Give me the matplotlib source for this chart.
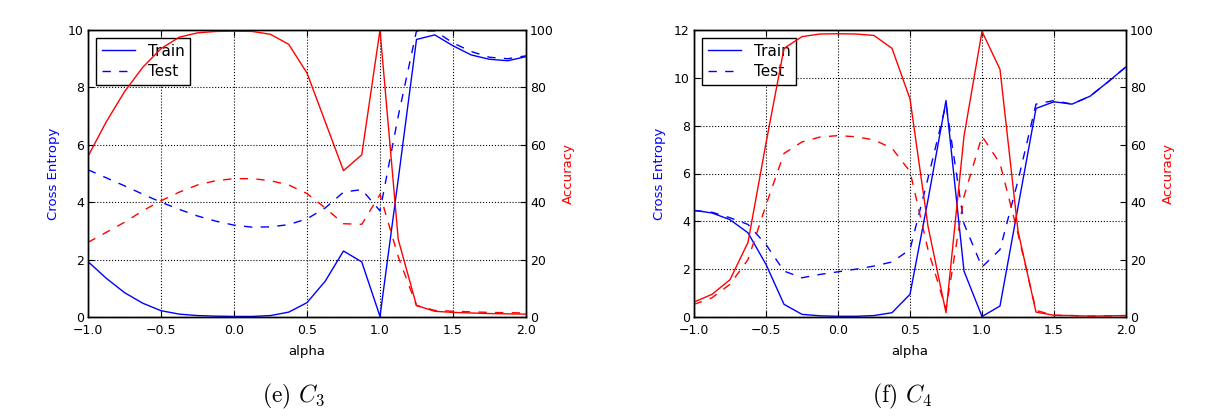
import matplotlib
matplotlib.use("Agg")
import matplotlib.pyplot as plt

# ---------------- data ----------------
alpha = [-1.0, -0.875, -0.75, -0.625, -0.5, -0.375, -0.25, -0.125, 0.0,
         0.125, 0.25, 0.375, 0.5, 0.625, 0.75, 0.875, 1.0,
         1.125, 1.25, 1.375, 1.5, 1.625, 1.75, 1.875, 2.0]

# panel (e) C3
e_train_ce = [1.93, 1.35, 0.85, 0.48, 0.22, 0.10, 0.05, 0.03, 0.02, 0.02, 0.05, 0.17, 0.50,
              1.25, 2.30, 1.92, 0.02, 4.80, 9.67, 9.83, 9.45, 9.13, 8.98, 8.93, 9.07]
e_test_ce = [5.13, 4.85, 4.57, 4.28, 4.00, 3.75, 3.52, 3.34, 3.20, 3.13, 3.14, 3.22, 3.42,
             3.80, 4.35, 4.44, 3.70, 7.00, 9.97, 9.97, 9.55, 9.25, 9.05, 9.00, 9.10]
e_train_acc = [56, 68, 78.5, 87, 93.5, 97.5, 99, 99.5, 99.6, 99.5, 98.5, 95, 85,
               68, 51, 56.5, 100, 27, 4, 2, 1.6, 1.4, 1.2, 1.1, 1.0]
e_test_acc = [26, 29.5, 33, 37, 40.5, 43.5, 46, 47.5, 48.2, 48.2, 47.5, 46, 43,
              38, 32.5, 32.3, 42.7, 21, 4, 2.3, 2.0, 1.8, 1.6, 1.5, 1.4]

# panel (f) C4
f_train_ce = [4.46, 4.35, 4.07, 3.52, 2.20, 0.53, 0.11, 0.05, 0.03, 0.03, 0.06, 0.18, 0.95,
              4.90, 9.05, 1.92, 0.02, 0.46, 4.60, 8.72, 9.00, 8.90, 9.23, 9.83, 10.46]
f_test_ce = [4.45, 4.38, 4.15, 3.87, 3.03, 1.92, 1.64, 1.78, 1.89, 2.00, 2.13, 2.30, 2.82,
             5.80, 8.90, 3.90, 2.09, 2.82, 5.70, 8.90, 9.05, 8.90, 9.23, 9.83, 10.46]
f_train_acc = [5.2, 7.9, 13, 26, 60.6, 93.6, 97.7, 98.6, 98.7, 98.6, 98.1, 93.6, 76,
               31.6, 1.5, 63, 99.5, 86.3, 30, 1.7, 0.6, 0.5, 0.3, 0.4, 0.5]
f_test_acc = [4.4, 6.7, 11.4, 20, 39, 57, 61, 62.7, 63.2, 62.8, 61.7, 58.8, 50.7,
              23.5, 2.7, 42, 63, 53.5, 29, 2.3, 0.6, 0.5, 0.3, 0.4, 0.5]

xticks = [-1.0, -0.5, 0.0, 0.5, 1.0, 1.5, 2.0]
acc_ticks = [0, 20, 40, 60, 80, 100]

panels = [
    dict(train_ce=e_train_ce, test_ce=e_test_ce, train_acc=e_train_acc, test_acc=e_test_acc,
         ce_max=10, ce_ticks=[0, 2, 4, 6, 8, 10], caption=r"(e) $C_3$",
         rect=[88 / 1232, 100 / 417, 438 / 1232, 287 / 417], cap_x=294 / 1232),
    dict(train_ce=f_train_ce, test_ce=f_test_ce, train_acc=f_train_acc, test_acc=f_test_acc,
         ce_max=12, ce_ticks=[0, 2, 4, 6, 8, 10, 12], caption=r"(f) $C_4$",
         rect=[694 / 1232, 100 / 417, 432 / 1232, 287 / 417], cap_x=902 / 1232),
]

plt.rcParams.update({
    "font.family": "DejaVu Sans",
    "font.size": 9,
    "xtick.direction": "in",
    "ytick.direction": "in",
    "xtick.major.size": 4,
    "ytick.major.size": 4,
    "axes.linewidth": 1.0,
    "lines.dashed_pattern": [6, 6],
    "mathtext.fontset": "cm",
})

fig = plt.figure(figsize=(12.32, 4.17), dpi=100)
fig.patch.set_facecolor("white")

for p in panels:
    ax = fig.add_axes(p["rect"])
    ax2 = ax.twinx()
    l1, = ax.plot(alpha, p["train_ce"], color="b", lw=1.0, ls="-", label="Train")
    l2, = ax.plot(alpha, p["test_ce"], color="b", lw=1.0, ls="--", label="Test")
    ax2.plot(alpha, p["train_acc"], color="r", lw=1.0, ls="-")
    ax2.plot(alpha, p["test_acc"], color="r", lw=1.0, ls="--")

    ax.set_xlim(-1.0, 2.0)
    ax.set_ylim(0, p["ce_max"])
    ax2.set_ylim(0, 100)
    ax.set_xticks(xticks)
    ax.set_yticks(p["ce_ticks"])
    ax2.set_yticks(acc_ticks)
    ax.tick_params(axis="x", top=True, labelsize=9, pad=5)
    ax.tick_params(axis="y", labelsize=9, pad=3)
    ax2.tick_params(axis="y", labelsize=9, pad=3)
    ax.grid(True, color="black", ls=":", lw=0.8)
    ax.set_xlabel("alpha", fontsize=9.5, labelpad=6)
    ax.set_ylabel("Cross Entropy", color="b", fontsize=9.5, labelpad=6)
    ax2.set_ylabel("Accuracy", color="r", fontsize=9.5, labelpad=6)

    leg = ax.legend(handles=[l1, l2], loc="upper left", fontsize=11, fancybox=False,
                    framealpha=1, edgecolor="black", handlelength=2.2,
                    borderpad=0.4, labelspacing=0.35, borderaxespad=0.5)
    leg.get_frame().set_linewidth(1.0)

    fig.text(p["cap_x"], 1 - 396 / 417, p["caption"], ha="center", va="center",
             fontsize=17, family="cmr10")

fig.savefig("out.png", dpi=100, facecolor="white")
